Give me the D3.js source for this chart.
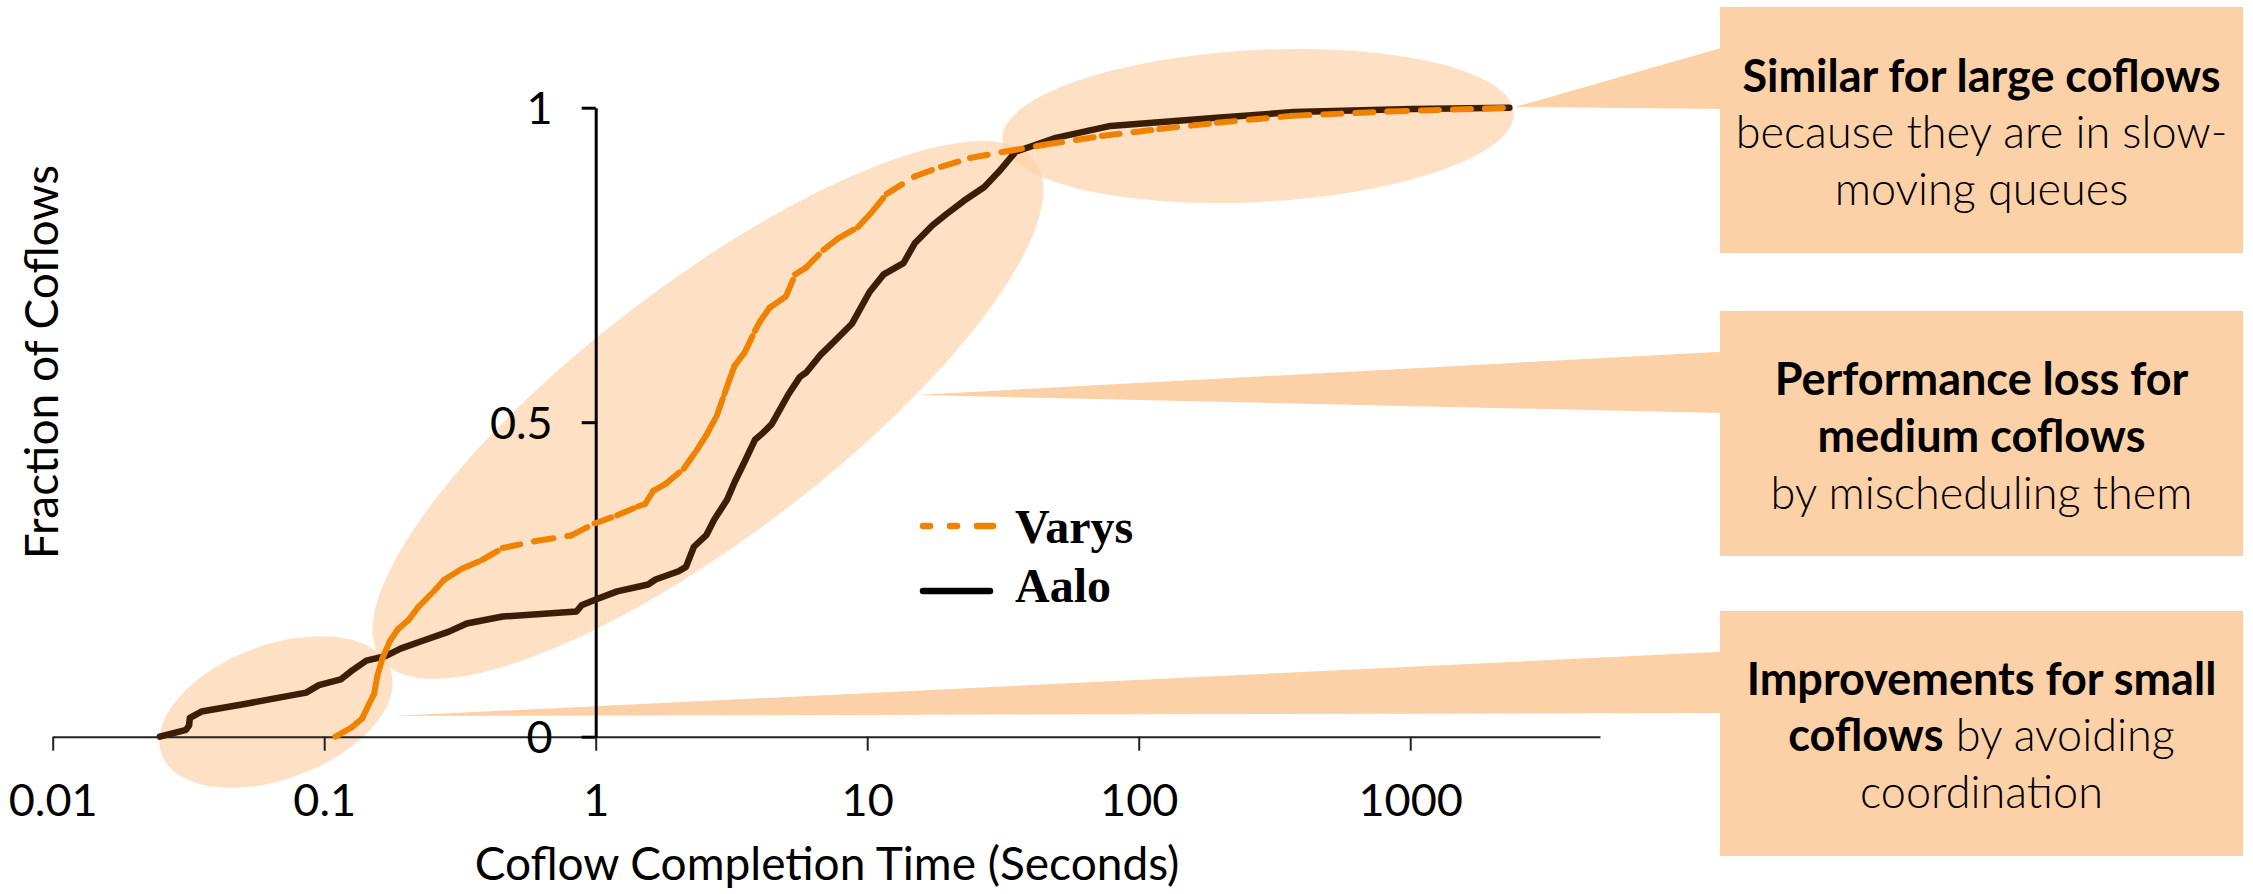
<!DOCTYPE html>
<html><head><meta charset="utf-8">
<script src="https://cdn.jsdelivr.net/npm/d3@7"></script>
<style>body{margin:0;background:#fff}svg{display:block}</style>
</head><body>
<svg id="chart" width="2253" height="894"></svg>
<script>
// ---------- data ----------
const xTicks = [0.01, 0.1, 1, 10, 100, 1000];
const xTickLabels = ["0.01", "0.1", "1", "10", "100", "1000"];
const yTicks = [0, 0.5, 1];
const yTickLabels = ["0", "0.5", "1"];
const seriesNames = ["Varys", "Aalo"];

const varysTime = [0.110, 0.1265, 0.138, 0.1455, 0.1526, 0.157, 0.164, 0.175, 0.187, 0.204, 0.222, 0.253, 0.276, 0.321, 0.382, 0.454, 0.601, 0.814, 0.99, 1.20, 1.43, 1.52, 1.63, 1.81, 2.11, 2.35, 2.56, 2.79, 2.98, 3.10, 3.25, 3.54, 3.86, 4.04, 4.37, 5.02, 5.43, 5.96, 6.90, 7.80, 9.24, 10.4, 11.8, 15.0, 18.7, 23.9, 32.0, 44.9, 73.1, 119, 194, 365, 835, 2318];
const varysFrac = [0, 0.015, 0.029, 0.050, 0.068, 0.097, 0.125, 0.153, 0.171, 0.185, 0.206, 0.231, 0.249, 0.267, 0.281, 0.300, 0.311, 0.320, 0.339, 0.352, 0.366, 0.370, 0.391, 0.402, 0.426, 0.455, 0.480, 0.510, 0.545, 0.566, 0.590, 0.611, 0.645, 0.661, 0.682, 0.700, 0.735, 0.746, 0.774, 0.792, 0.810, 0.834, 0.863, 0.891, 0.906, 0.920, 0.930, 0.941, 0.955, 0.966, 0.976, 0.987, 0.994, 1.0];

const aaloTime = [0.0248, 0.031, 0.0318, 0.032, 0.0353, 0.051, 0.0858, 0.0956, 0.115, 0.1265, 0.143, 0.168, 0.191, 0.232, 0.288, 0.335, 0.454, 0.850, 0.887, 1.0, 1.20, 1.56, 1.66, 2.02, 2.15, 2.30, 2.56, 2.73, 3.05, 3.25, 3.47, 3.86, 4.13, 4.45, 5.12, 5.65, 5.96, 6.73, 7.42, 8.80, 10.2, 11.5, 13.6, 15.0, 17.4, 19.6, 22.7, 27.0, 30.5, 35.2, 49.5, 78.7, 194, 373, 1013, 2318];
const aaloFrac = [0, 0.011, 0.018, 0.030, 0.040, 0.052, 0.070, 0.082, 0.091, 0.105, 0.121, 0.128, 0.140, 0.153, 0.167, 0.180, 0.191, 0.199, 0.209, 0.218, 0.231, 0.242, 0.250, 0.263, 0.270, 0.302, 0.321, 0.345, 0.377, 0.405, 0.430, 0.472, 0.483, 0.497, 0.544, 0.572, 0.579, 0.607, 0.625, 0.657, 0.707, 0.735, 0.753, 0.785, 0.813, 0.831, 0.852, 0.874, 0.898, 0.930, 0.952, 0.971, 0.984, 0.993, 0.998, 1.0];

const calloutLines = [
  [[["Similar for large coflows", true]], [["because they are in slow-", false]], [["moving queues", false]]],
  [[["Performance loss for", true]], [["medium coflows", true]], [["by mischeduling them", false]]],
  [[["Improvements for small", true]], [["coflows", true], [" by avoiding", false]], [["coordination", false]]]
];

// ---------- layout ----------
const svg = d3.select("#chart");
const FONT = "Lato, 'Open Sans', sans-serif";
const ORANGE = "#ef8200", BROWN = "#3c1e06", PEACH = "#fdd1a7";

const x = d3.scaleLog().domain([0.01, 5000]).range([52.7, 1600]);
const y = d3.scaleLinear().domain([0, 1]).range([736.7, 107.7]);

// highlight ellipses
const ellipses = [
  {cx: 276, cy: 712, rx: 122, ry: 67, rot: -20.4},
  {cx: 708, cy: 410, rx: 411, ry: 126, rot: -37.4},
  {cx: 1258, cy: 126, rx: 256, ry: 76, rot: -3}
];
svg.append("g").selectAll("ellipse").data(ellipses).join("ellipse")
  .attr("cx", d => d.cx).attr("cy", d => d.cy).attr("rx", d => d.rx).attr("ry", d => d.ry)
  .attr("transform", d => `rotate(${d.rot} ${d.cx} ${d.cy})`)
  .attr("fill", PEACH).attr("fill-opacity", 0.67);

// callout wedges
const wedges = [
  [[1515, 107], [1721, 48], [1721, 109]],
  [[915, 395], [1721, 351.7], [1721, 413]],
  [[393, 716], [1721, 651.7], [1721, 713]]
];
svg.append("g").selectAll("path").data(wedges).join("path")
  .attr("d", d => "M" + d.map(p => p.join(",")).join("L") + "Z")
  .attr("fill", PEACH);

// axes
const xAxis = svg.append("g").attr("transform", `translate(0,${y(0)})`)
  .call(d3.axisBottom(x).tickValues(xTicks).tickSize(14).tickSizeOuter(0)
    .tickFormat((d, i) => xTickLabels[i]).tickPadding(33));
xAxis.select(".domain").attr("stroke", "#222").attr("stroke-width", 2);
xAxis.selectAll(".tick line").attr("stroke", "#222").attr("stroke-width", 2);
xAxis.selectAll(".tick text").attr("font-family", FONT).attr("font-size", 45).attr("fill", "#000");

const yAxis = svg.append("g").attr("transform", `translate(${x(1)},0)`)
  .call(d3.axisLeft(y).tickValues(yTicks).tickSize(14).tickSizeOuter(0)
    .tickFormat((d, i) => yTickLabels[i]).tickPadding(29));
yAxis.select(".domain").attr("stroke", "#000").attr("stroke-width", 3);
yAxis.selectAll(".tick line").attr("stroke", "#000").attr("stroke-width", 3);
yAxis.selectAll(".tick text").attr("font-family", FONT).attr("font-size", 45).attr("fill", "#000").attr("dy", "0.36em");

// axis titles
svg.append("text").attr("x", 827).attr("y", 880).attr("text-anchor", "middle")
  .attr("font-family", FONT).attr("font-size", 46).text("Coflow Completion Time (Seconds)");
svg.append("text").attr("transform", "translate(58,362) rotate(-90)").attr("text-anchor", "middle")
  .attr("font-family", FONT).attr("font-size", 46).text("Fraction of Coflows");

// series: Aalo solid
const line = d3.line().x(d => x(d[0])).y(d => y(d[1]));
const aalo = aaloTime.map((t, i) => [t, aaloFrac[i]]);
svg.append("path").datum(aalo).attr("d", line).attr("fill", "none")
  .attr("stroke", BROWN).attr("stroke-width", 6.5).attr("stroke-linejoin", "round").attr("stroke-linecap", "round");

// series: Varys dashed, dash pattern restarting on every segment
const varys = varysTime.map((t, i) => [t, varysFrac[i]]);
const vSegs = d3.pairs(varys);
svg.append("g").selectAll("path").data(vSegs).join("path")
  .attr("d", d => line(d)).attr("fill", "none")
  .attr("stroke", ORANGE).attr("stroke-width", 6).attr("stroke-linecap", "round")
  .attr("stroke-dasharray", "18,14");

// legend
const lg = svg.append("g");
lg.append("line").attr("x1", 923).attr("x2", 993).attr("y1", 526).attr("y2", 526)
  .attr("stroke", ORANGE).attr("stroke-width", 6.5).attr("stroke-linecap", "round")
  .attr("stroke-dasharray", "7,20,7,20,17");
lg.append("line").attr("x1", 923).attr("x2", 990).attr("y1", 591).attr("y2", 591)
  .attr("stroke", "#000").attr("stroke-width", 6.5).attr("stroke-linecap", "round");
lg.selectAll("text").data(seriesNames).join("text")
  .attr("x", 1015).attr("y", (d, i) => i === 0 ? 543 : 602)
  .attr("font-family", "'Liberation Serif', 'DejaVu Serif', serif").attr("font-weight", 700)
  .attr("font-size", 48).attr("fill", "#000").text(d => d);

// callout boxes
const boxes = [{y: 7, h: 246}, {y: 311, h: 245}, {y: 611, h: 245}];
const boxX = 1720, boxW = 523;
const baselines = [[92, 148, 205], [395, 452, 509], [695, 751, 808]];
boxes.forEach((b, bi) => {
  svg.append("rect").attr("x", boxX).attr("y", b.y).attr("width", boxW).attr("height", b.h).attr("fill", PEACH);
  calloutLines[bi].forEach((ln, li) => {
    const t = svg.append("text").attr("x", boxX + boxW / 2).attr("y", baselines[bi][li])
      .attr("text-anchor", "middle").attr("font-family", FONT).attr("font-size", 45).attr("fill", "#000");
    ln.forEach(([s, bold]) => {
      t.append("tspan").attr("font-weight", bold ? 700 : 300).text(s);
    });
  });
});
</script>
</body></html>
